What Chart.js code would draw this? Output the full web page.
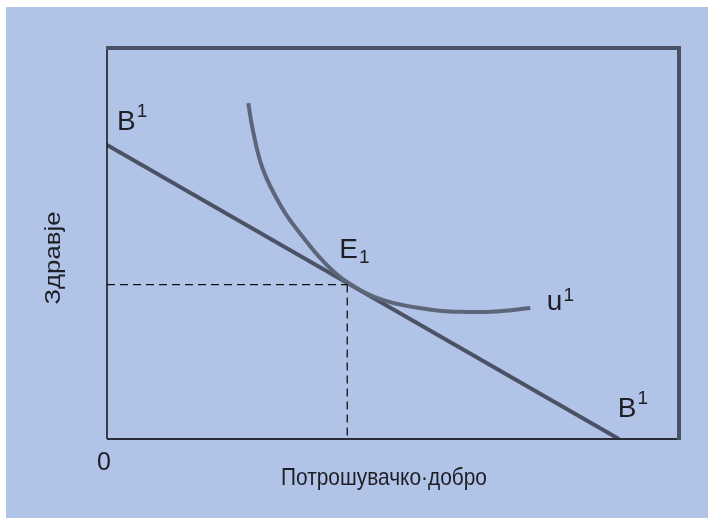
<!DOCTYPE html>
<html>
<head>
<meta charset="utf-8">
<script src="https://cdn.jsdelivr.net/npm/chart.js@4/dist/chart.umd.min.js"></script>
<style>
  html,body{margin:0;padding:0;background:#fff}
  #wrap{width:708px;height:518px}
</style>
</head>
<body>
<div id="wrap"><canvas id="c" width="708" height="518"></canvas></div>
<script>
// ── Data (x: потрошувачко добро, y: здравје; 0..100 units) ──
const budgetX = [0, 89.5];
const budgetY = [75.2, 0];

const curveX = [24.7, 25.5, 27.3, 30.6, 33.7, 37.9, 42.0, 48.3, 57.0, 62.9, 68.7, 74.0];
const curveY = [85.9, 79.0, 68.8, 59.1, 52.7, 45.3, 40.1, 35.5, 33.0, 32.5, 32.7, 33.5];

const eqX = 42.0;
const eqY = 39.5;

const xTitle = 'Потрошувачко·добро';
const yTitle = 'Здравје';
const originLabel = '0';

// point labels: main text, small index, raised (sup) or lowered (sub)
const labelText  = ['B', 'E', 'u', 'B'];
const labelIndex = ['1', '1', '1', '1'];
const labelKind  = ['sup', 'sub', 'sup', 'sup'];
const labelAtX   = [1.75, 40.6, 76.9, 89.3];
const labelAtY   = [79.0, 46.3, 33.0, 5.6];

const C = { bg:'#b1c3e6', line:'#4b5266', curve:'#5d6579', frame:'#4a5064', ink:'#1e1f26' };
const FONT = '"Liberation Sans", Arial, sans-serif';

const pts = (xs, ys) => xs.map((x, i) => ({ x, y: ys[i] }));

// background + frame + texts
const decor = {
  id: 'decor',
  beforeDraw(chart) {
    const { ctx, width, height } = chart;
    ctx.save();
    ctx.fillStyle = '#ffffff';
    ctx.fillRect(0, 0, width, height);
    ctx.fillStyle = C.bg;
    ctx.fillRect(6, 7, width - 6, height - 7);
    ctx.restore();
  },
  afterDatasetsDraw(chart) {
    const { ctx, chartArea: a, scales: { x, y } } = chart;
    ctx.save();
    // thin left + bottom axes
    ctx.strokeStyle = '#1a1a1a';
    ctx.lineWidth = 1.6;
    ctx.beginPath(); ctx.moveTo(a.left, a.top); ctx.lineTo(a.left, a.bottom); ctx.stroke();
    ctx.lineWidth = 2;
    ctx.strokeStyle = '#2a2d38';
    ctx.beginPath(); ctx.moveTo(a.left, a.bottom); ctx.lineTo(a.right + 2, a.bottom); ctx.stroke();
    // thick top + right border
    ctx.strokeStyle = C.frame;
    ctx.lineWidth = 4;
    ctx.beginPath(); ctx.moveTo(a.left - 1, a.top); ctx.lineTo(a.right, a.top); ctx.lineTo(a.right, a.bottom + 1); ctx.stroke();

    ctx.fillStyle = C.ink;
    ctx.textBaseline = 'alphabetic';
    ctx.textAlign = 'left';
    labelText.forEach((t, i) => {
      const px = x.getPixelForValue(labelAtX[i]);
      const py = y.getPixelForValue(labelAtY[i]);
      ctx.font = '28px ' + FONT;
      ctx.fillText(t, px, py);
      const w = ctx.measureText(t).width;
      ctx.font = '19px ' + FONT;
      const dy = labelKind[i] === 'sup' ? (t === 'u' ? -9 : -13) : 5;
      ctx.fillText(labelIndex[i], px + w + 1, py + dy);
    });

    // origin
    ctx.font = '25px ' + FONT;
    ctx.fillText(originLabel, a.left - 10, a.bottom + 31);

    // x title (slightly condensed)
    ctx.save();
    ctx.font = '24px ' + FONT;
    ctx.translate(384, 485);
    ctx.scale(0.87, 1);
    ctx.textAlign = 'center';
    ctx.fillText(xTitle, 0, 0);
    ctx.restore();

    // y title
    ctx.save();
    ctx.font = '22px ' + FONT;
    ctx.translate(60, 258);
    ctx.rotate(-Math.PI / 2);
    ctx.scale(1.17, 1);
    ctx.textAlign = 'center';
    ctx.fillText(yTitle, 0, 0);
    ctx.restore();

    ctx.restore();
  }
};

new Chart(document.getElementById('c'), {
  type: 'scatter',
  data: {
    datasets: [
      { label: 'guide-h', data: pts([0, eqX], [eqY, eqY]), showLine: true, borderColor: '#111', borderWidth: 1.3, borderDash: [8, 5], pointRadius: 0 },
      { label: 'guide-v', data: pts([eqX, eqX], [eqY, 0]), showLine: true, borderColor: '#111', borderWidth: 1.3, borderDash: [8, 5], pointRadius: 0 },
      { label: 'u1', data: pts(curveX, curveY), showLine: true, borderColor: C.curve, borderWidth: 4, tension: 0.4, pointRadius: 0, borderCapStyle: 'butt' },
      { label: 'B1', data: pts(budgetX, budgetY), showLine: true, borderColor: C.line, borderWidth: 4, pointRadius: 0 },
    ]
  },
  options: {
    responsive: false,
    animation: false,
    layout: { padding: { left: 107, top: 48, right: 29, bottom: 79 } },
    plugins: { legend: { display: false }, tooltip: { enabled: false } },
    scales: {
      x: { type: 'linear', min: 0, max: 100, display: false },
      y: { type: 'linear', min: 0, max: 100, display: false }
    }
  },
  plugins: [decor]
});
</script>
</body>
</html>
